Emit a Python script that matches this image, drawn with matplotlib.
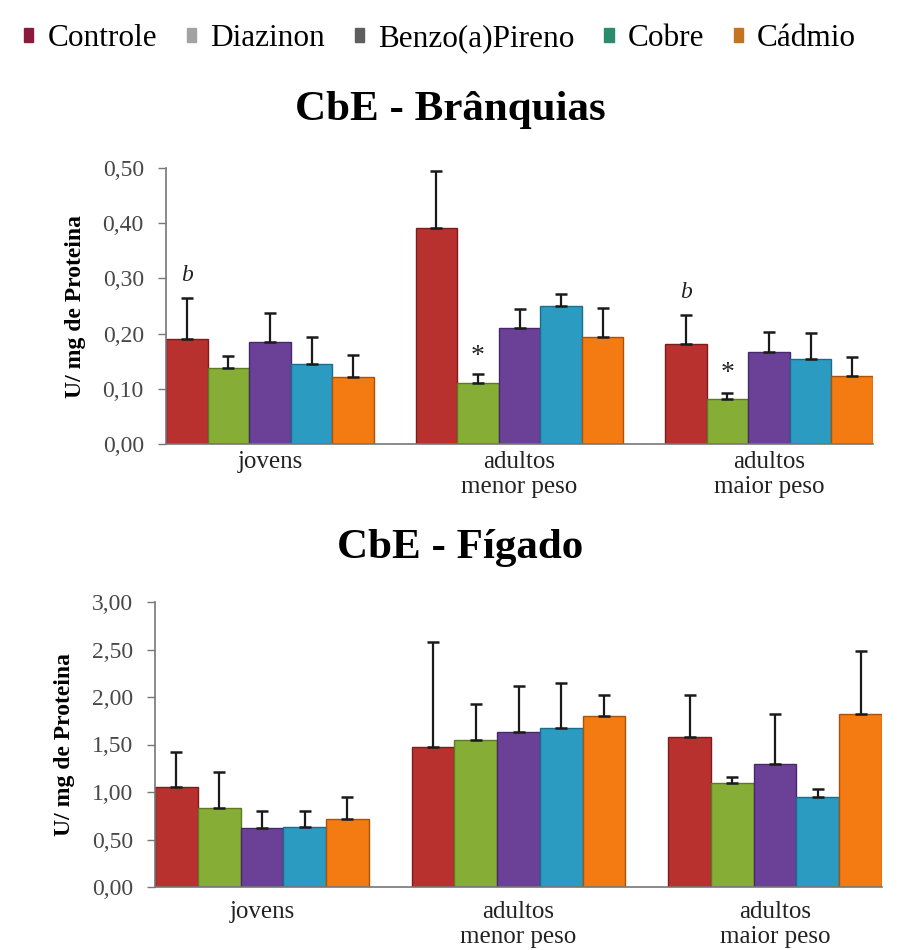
import numpy as np
import matplotlib
matplotlib.use("Agg")
import matplotlib.pyplot as plt
from matplotlib.patches import Patch

plt.rcParams['font.family'] = ['Liberation Serif', 'DejaVu Serif']

# ---- data ----
categories = ["jovens", "adultos\nmenor peso", "adultos\nmaior peso"]
series = ["Controle", "Diazinon", "Benzo(a)Pireno", "Cobre", "Cádmio"]

gill_mean = {
    "Controle":       [0.190, 0.391, 0.181],
    "Diazinon":       [0.137, 0.110, 0.082],
    "Benzo(a)Pireno": [0.185, 0.210, 0.167],
    "Cobre":          [0.145, 0.250, 0.154],
    "Cádmio":         [0.121, 0.194, 0.123],
}
gill_err = {
    "Controle":       [0.074, 0.104, 0.053],
    "Diazinon":       [0.023, 0.017, 0.011],
    "Benzo(a)Pireno": [0.052, 0.035, 0.036],
    "Cobre":          [0.049, 0.022, 0.047],
    "Cádmio":         [0.040, 0.052, 0.035],
}
liver_mean = {
    "Controle":       [1.05, 1.47, 1.58],
    "Diazinon":       [0.83, 1.55, 1.09],
    "Benzo(a)Pireno": [0.62, 1.63, 1.29],
    "Cobre":          [0.63, 1.67, 0.95],
    "Cádmio":         [0.72, 1.80, 1.82],
}
liver_err = {
    "Controle":       [0.37, 1.11, 0.44],
    "Diazinon":       [0.38, 0.38, 0.07],
    "Benzo(a)Pireno": [0.18, 0.49, 0.53],
    "Cobre":          [0.17, 0.48, 0.08],
    "Cádmio":         [0.23, 0.22, 0.66],
}
gill_ticks = [0.0, 0.1, 0.2, 0.3, 0.4, 0.5]
liver_ticks = [0.0, 0.5, 1.0, 1.5, 2.0, 2.5, 3.0]

# significance marks on gill chart: (category index, series, label, y value)
gill_marks = [(0, "Controle", "b", 0.306), (2, "Controle", "b", 0.274),
              (1, "Diazinon", "*", 0.158), (2, "Diazinon", "*", 0.128)]

bar_colors = ["#b8312f", "#86ad36", "#6a4196", "#2c9bc2", "#f47b12"]
edge_colors = ["#7a1d1b", "#5d7a22", "#46296a", "#1b6d8a", "#a8520a"]
legend_colors = ["#8c1a3c", "#a3a3a3", "#5e5e5e", "#2b8c6c", "#c2741f"]

W, H = 908, 950
fig = plt.figure(figsize=(W / 100, H / 100), dpi=100)
fig.patch.set_facecolor("white")

nser = len(series)
group_step = nser + 1
x0 = np.arange(len(categories)) * group_step


def draw(ax, means, errs, ticks, marks=None, xpad=4):
    for i, s in enumerate(series):
        xs = x0 + i + 0.5
        ax.bar(xs, means[s], width=1.0, color=bar_colors[i],
               edgecolor=edge_colors[i], linewidth=1.0, zorder=2)
        ax.errorbar(xs, means[s], yerr=[np.zeros(len(categories)), errs[s]],
                    fmt="none", ecolor="#1a1a1a", elinewidth=1.6,
                    capsize=4.5, capthick=1.8, zorder=3)
    ax.set_xlim(0, group_step * len(categories) - 1)
    ax.set_ylim(ticks[0], ticks[-1])
    ax.set_yticks(ticks)
    ax.set_yticklabels([f"{t:.2f}".replace(".", ",") for t in ticks],
                       fontsize=17, color="#484848")
    ax.set_xticks(x0 + nser / 2)
    ax.set_xticklabels(categories, fontsize=18, color="#222222",
                       linespacing=1.2)
    ax.tick_params(axis="x", length=0, pad=xpad)
    ax.tick_params(axis="y", length=6, width=1, color="#777777",
                   direction="out", pad=10)
    for side in ("top", "right"):
        ax.spines[side].set_visible(False)
    for side in ("left", "bottom"):
        ax.spines[side].set_color("#777777")
        ax.spines[side].set_linewidth(1.2)
    ax.set_ylabel("U/ mg de Proteina", fontsize=17, fontweight="bold",
                  labelpad=12)
    if marks:
        for ci, s, lab, yv in marks:
            xi = x0[ci] + series.index(s) + 0.5
            if lab == "b":
                ax.text(xi, yv, lab, ha="center", va="center", fontsize=17,
                        style="italic", color="#222222")
            else:
                ax.text(xi, yv, lab, ha="center", va="center", fontsize=20,
                        color="#222222")
    ax.set_facecolor("none")


ax1 = fig.add_axes([166 / W, 1 - 444 / H, 707 / W, 276 / H])
draw(ax1, gill_mean, gill_err, gill_ticks, gill_marks, xpad=5)

ax2 = fig.add_axes([155 / W, 1 - 887 / H, 727 / W, 285 / H])
draw(ax2, liver_mean, liver_err, liver_ticks, xpad=10)

fig.text(450 / W, 1 - 110 / H, "CbE - Brânquias", ha="center", va="center",
         fontsize=31, fontweight="bold")
fig.text(460 / W, 1 - 548 / H, "CbE - Fígado", ha="center", va="center",
         fontsize=31, fontweight="bold")

handles = [Patch(facecolor=c, edgecolor=c) for c in legend_colors]
fig.legend(handles, series, loc="center left",
           bbox_to_anchor=(24 / W, 1 - 39 / H), ncol=5, frameon=False,
           fontsize=22.5, handlelength=0.3, handleheight=0.3,
           handletextpad=0.45, columnspacing=0.95, borderpad=0,
           borderaxespad=0)

fig.savefig("out.png", dpi=100, facecolor="white")
